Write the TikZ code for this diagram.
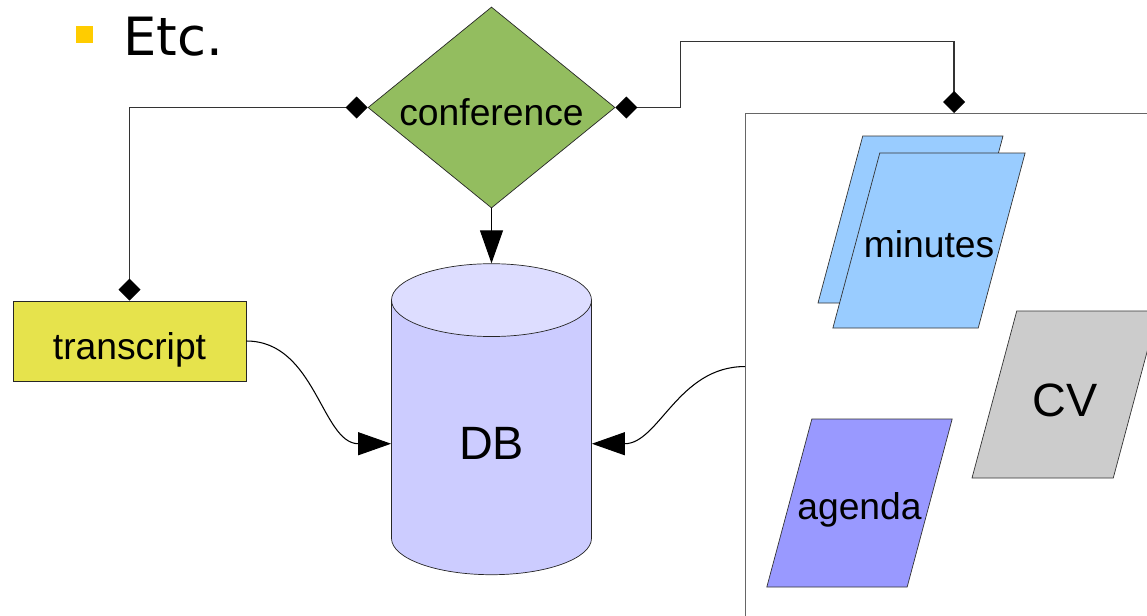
\documentclass[tikz,border=0pt]{standalone}
\usepackage{fontspec}
\setmainfont{Liberation Sans}
\newfontfamily\etcfont{DejaVu Sans}
\usepackage{tikz}
\usetikzlibrary{shapes.geometric, arrows.meta, positioning}
\definecolor{confgreen}{HTML}{93BD5F}
\definecolor{transyellow}{HTML}{E6E34C}
\definecolor{dbbody}{HTML}{CCCCFF}
\definecolor{dbtop}{HTML}{DDDDFF}
\definecolor{docblue}{HTML}{99CCFF}
\definecolor{agendablue}{HTML}{9999FF}
\definecolor{cvgray}{HTML}{CCCCCC}
\definecolor{bulletyellow}{HTML}{FFCC00}

\begin{document}
\begin{tikzpicture}[
  x=0.2mm, y=-0.2mm,
  lbl/.style={font=\fontsize{21.2}{25}\selectfont},
  big/.style={font=\fontsize{26.6}{31}\selectfont},
  doc/.style={trapezium, trapezium left angle=75, trapezium right angle=105, trapezium stretches body=true, draw=black!80, inner sep=0pt, lbl},
  link/.style={draw=black!80, line width=0.6pt, {Diamond[length=4.4mm,width=4.4mm,color=black]}-{Diamond[length=4.4mm,width=4.4mm,color=black]}},
  flow/.style={draw=black, line width=0.6pt, -{Triangle[length=6.6mm,width=4.6mm]}},
]
\useasboundingbox (0,0) rectangle (1147,615);

% Heading
\node[fill=bulletyellow, minimum size=3.4mm, inner sep=0pt] (bullet) at (84.5,34.5) {};
\node[anchor=base west, inner sep=0pt, font=\etcfont\fontsize{30}{35}\selectfont] (etc) at (123,55) {Etc.};

% Documents
\node[draw=black!60, line width=0.6pt, anchor=north west, minimum width=100mm, minimum height=101.2mm] (frame) at (745,113) {};
\node[doc, fill=docblue, minimum width=37mm, text height=16.7mm, text depth=16.7mm] (minback) at (910.5,219.5) {};
\node[doc, fill=docblue, inner xsep=-3.2mm, minimum width=38.4mm, text height=20.95mm, text depth=14.05mm] (minutes) at (929,240.5) {minutes};
\node[doc, fill=cvgray, minimum width=37.2mm, text height=21.05mm, text depth=12.35mm, big] (cv) at (1065,394.5) {CV};
\node[doc, fill=agendablue, inner xsep=-2.9mm, minimum width=37mm, text height=20.15mm, text depth=13.45mm] (agenda) at (859.5,503) {agenda};

% Core
\node[diamond, draw=black!85, fill=confgreen, inner sep=0pt, aspect=1.235, minimum width=49.4mm, minimum height=40.2mm, text height=7mm, text depth=0pt, lbl] (conf) at (491.5,107.5) {conference};
\node[cylinder, shape border rotate=90, aspect=0.95, draw=black!85, cylinder uses custom fill, cylinder body fill=dbbody, cylinder end fill=dbtop, minimum width=40mm, minimum height=62.2mm, big, below=11mm of conf] (db) {DB};
\node[draw=black!85, fill=transyellow, minimum width=46.6mm, minimum height=16mm, text height=7.2mm, text depth=0pt, lbl] (trans) at (129.5,341) {transcript};

% Arrows
\draw[link] (conf.west) -| (trans.north);
\draw[link] (conf.east) -- ++(65,0) -- ++(0,-66) -| ([xshift=41.8mm]frame.north west);
\draw[flow] (conf.south) -- (db.north);
\draw[flow] (trans.east) to[out=0, in=180] (db.west);
\draw[flow] (frame.west) to[out=180, in=0] (db.east);

\end{tikzpicture}
\end{document}
